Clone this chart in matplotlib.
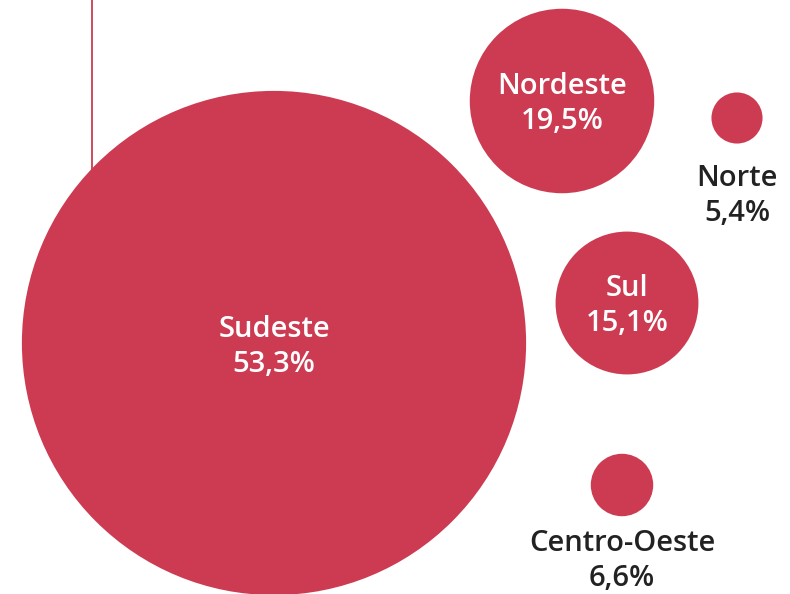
import matplotlib
matplotlib.use('Agg')
from matplotlib import pyplot as plt
from matplotlib.patches import Circle

plt.rcParams['font.family'] = ['Open Sans', 'DejaVu Sans']

# data
regions = ['Sudeste', 'Nordeste', 'Sul', 'Centro-Oeste', 'Norte']
shares = [53.3, 19.5, 15.1, 6.6, 5.4]

# layout (pixel coords, y down)
centers = [(274, 343), (562, 101), (627, 303), (622, 485), (737, 118)]
label_inside = [True, True, True, False, False]
label_pos = [(274, 347), (562, 104), (627, 306), (622, 561), (737, 196)]
px_per_pct = 4.73

red = '#cc3b51'

fig = plt.figure(figsize=(7.9, 5.94), dpi=100)
ax = fig.add_axes([0, 0, 1, 1])
ax.set_xlim(0, 790)
ax.set_ylim(594, 0)
ax.axis('off')

# guide line down to big bubble
ax.plot([92, 92], [0, 175], color=red, lw=1.3, zorder=1)

for name, val, (cx, cy), inside, (lx, ly) in zip(regions, shares, centers, label_inside, label_pos):
    ax.add_patch(Circle((cx, cy), val * px_per_pct, color=red, lw=0, zorder=2))
    txt = '{}\n{}%'.format(name, str(val).replace('.', ','))
    ax.text(lx, ly, txt, ha='center', va='center', fontsize=21,
            fontweight='semibold', linespacing=1.3,
            color='white' if inside else '#222222', zorder=3)

fig.savefig('out.png', dpi=100)
